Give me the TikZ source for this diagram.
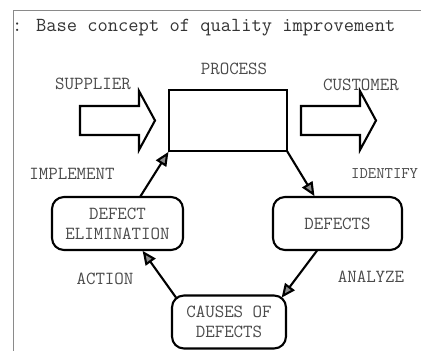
\documentclass[tikz,border=0pt]{standalone}
\usepackage{tikz}
\usetikzlibrary{arrows.meta, positioning}
\definecolor{framegray}{HTML}{8A8A8A}
\definecolor{textgray}{HTML}{4A4A4A}
\definecolor{tipgray}{HTML}{8C8C8C}

\begin{document}
\begin{tikzpicture}[
  x=1bp, y=-1bp,
  font=\ttfamily\fontsize{18.5}{20}\selectfont,
  lbl/.style={text=textgray, inner sep=0pt},
  box/.style={rectangle, draw=black, line width=2.1pt, fill=white,
    text=textgray, align=center, inner sep=2pt, outer sep=0pt},
  phase/.style={box, rounded corners=12pt, minimum height=53bp},
  blockarr/.style={draw=black, line width=2.1pt, fill=white, line join=miter},
  arr/.style={-{Triangle[length=14pt, width=12pt, fill=tipgray]}, black,
    line width=2.1pt, shorten >=1pt}]
  \useasboundingbox (0,0) rectangle (421,351);
  \draw[framegray, line width=0.8pt] (13,351) -- (13,10) -- (421,10);
  \node[lbl, text=black!80, anchor=west] (title) at (12,28)
    {{\fontsize{20}{22}\selectfont : Base concept of quality improvement}};

  % process with its input and output
  \node[box, minimum width=118bp, minimum height=61bp] (proc) at (228,120.5) {};
  \node[lbl] (proclbl) at (234,69) {PROCESS};
  \foreach \x in {80,301}
    \draw[blockarr] (\x,106) -- ++(59,0) -- ++(0,-15) -- ++(16,29.5)
      -- ++(-16,29.5) -- ++(0,-15) -- ++(-59,0) -- cycle;
  \node[lbl] (supp) at (93,84) {SUPPLIER};
  \node[lbl] (cust) at (361,85) {CUSTOMER};

  % improvement cycle
  \node[phase, minimum width=131bp] (elim) at (117.5,223.5) {DEFECT\\ELIMINATION};
  \node[phase, minimum width=129bp] (def) at (337.5,223.5) {DEFECTS};
  \node[phase, minimum width=114bp] (cause) at (229,322) {CAUSES OF\\DEFECTS};

  \draw[arr] ([xshift=22.5bp]elim.north) -- (proc.south west);
  \draw[arr] (proc.south east) -- ([xshift=-22.5bp]def.north);
  \draw[arr] ([xshift=-20bp]def.south) -- ([shift={(-5,3)}]cause.north east);
  \draw[arr] ([shift={(4,2)}]cause.north west) -- ([xshift=24.5bp]elim.south);

  \node[lbl] (impl) at (72,174) {IMPLEMENT};
  \node[lbl, anchor=west, font=\ttfamily\fontsize{16.3}{18}\selectfont]
    (ident) at (351,174) {IDENTIFY};
  \node[lbl] (act) at (105,279) {ACTION};
  \node[lbl] (anal) at (371,277) {ANALYZE};
\end{tikzpicture}
\end{document}
